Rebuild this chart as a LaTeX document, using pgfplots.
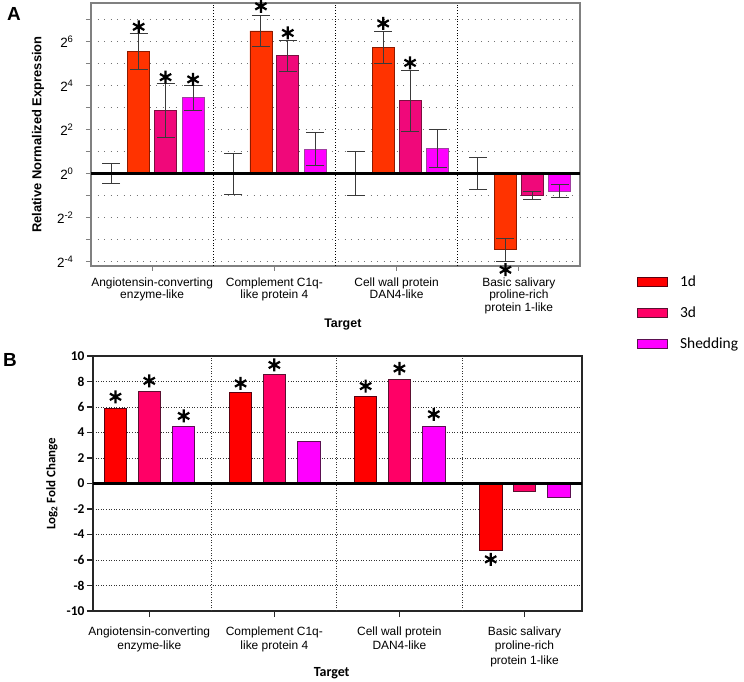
\documentclass[border=0pt]{standalone}
\usepackage{fontspec}
\setmainfont{Liberation Sans}
\newfontfamily\calibri{Carlito}
\usepackage{pgfplots}
\pgfplotsset{compat=1.18}
\definecolor{ta}{HTML}{FF3300}\definecolor{tab}{HTML}{8B1A00}
\definecolor{tb}{HTML}{F0087A}\definecolor{tbb}{HTML}{7A1040}
\definecolor{tc}{HTML}{FF00FF}\definecolor{tcb}{HTML}{A040A0}
\definecolor{ba}{HTML}{FF0000}\definecolor{bab}{HTML}{5A0010}
\definecolor{bb}{HTML}{FF0066}\definecolor{bbb}{HTML}{5A1030}
\definecolor{bc}{HTML}{FF00FF}\definecolor{bcb}{HTML}{5A1050}
\definecolor{errc}{HTML}{3A3A3A}
\pgfplotsset{
  toperr/.style={error bars/.cd, y dir=both, y explicit, error mark=|,
    error bar style={draw=errc, line width=1bp, solid},
    error mark options={draw=errc, line width=1bp, mark size=9bp, solid}},
}
\begin{document}
\begin{tikzpicture}
\path[use as bounding box] (0,0) rectangle (744bp,-682bp);
\node[font=\bfseries\fontsize{19}{21}\selectfont] at (14bp,-14bp) {A};
\node[font=\bfseries\fontsize{19}{21}\selectfont] at (10bp,-360bp) {B};
% ---------------- Panel A ----------------
\begin{axis}[
  at={(91bp,-3bp)}, anchor=north west, scale only axis,
  width=489bp, height=263bp,
  xmin=-0.5, xmax=3.5, ymin=-4.2, ymax=7.75,
  clip=false,
  axis line style={draw=black!50, line width=1.4bp},
  tick style={draw=black!50, line width=1.2bp},
  major tick length=5bp, tick align=outside, tick pos=left,
  xtick={0,1,2,3},
  xticklabels={{Angiotensin-converting\\enzyme-like},{Complement C1q-\\like protein 4},{Cell wall protein\\DAN4-like},{Basic salivary\\proline-rich\\protein 1-like}},
  xticklabel style={align=center, font=\fontsize{12}{12.8}\selectfont, yshift=-3bp},
  ytick={-4,-3,...,7},
  yticklabels={2\textsuperscript{-4},,2\textsuperscript{-2},,2\textsuperscript{0},,2\textsuperscript{2},,2\textsuperscript{4},,2\textsuperscript{6},},
  yticklabel style={font=\fontsize{13.5}{14}\selectfont, xshift=-9bp},
  ymajorgrids,
  major grid style={draw=black!55, line width=0.9bp, dash pattern=on 1bp off 5.5bp},
  extra x ticks={0.5,1.5,2.5}, extra x tick labels={},
  extra x tick style={grid=major, major tick length=0pt,
    major grid style={draw=black, line width=0.8bp, dash pattern=on 1bp off 1.8bp}},
  xlabel={Target}, ylabel={Relative Normalized Expression},
  xlabel style={font=\bfseries\fontsize{12.5}{14}\selectfont, at={(axis description cs:0.515,-0.224)}, anchor=center},
  ylabel style={font=\bfseries\fontsize{13}{14}\selectfont, at={(axis description cs:-0.1084,0.5)}, anchor=center},
]
% control (error bar only)
\addplot[draw=none, fill=none, mark=none, forget plot, toperr] coordinates {
 (-0.335,0) += (0,0.47) -= (0,0.44)
 (0.665,0) += (0,0.93) -= (0,0.95)
 (1.665,0) += (0,1.00) -= (0,1.00)
 (2.665,0) += (0,0.71) -= (0,0.73)
};
\addplot[ybar, bar width=0.18, bar shift=0pt, fill=ta, draw=tab, line width=0.8bp, toperr] coordinates {
 (-0.11,5.53) += (0,0.83) -= (0,0.81)
 (0.89,6.48) += (0,0.72) -= (0,0.72)
 (1.89,5.74) += (0,0.73) -= (0,0.75)
 (2.89,-3.45) += (0,0.50) -= (0,0.53)
};
\addplot[ybar, bar width=0.18, bar shift=0pt, fill=tb, draw=tbb, line width=0.8bp, toperr] coordinates {
 (0.11,2.87) += (0,1.21) -= (0,1.21)
 (1.11,5.37) += (0,0.69) -= (0,0.72)
 (2.11,3.31) += (0,1.36) -= (0,1.39)
 (3.11,-0.98) += (0,0.16) -= (0,0.19)
};
\addplot[ybar, bar width=0.18, bar shift=0pt, fill=tc, draw=tcb, line width=0.8bp, toperr] coordinates {
 (0.335,3.45) += (0,0.55) -= (0,0.58)
 (1.335,1.09) += (0,0.77) -= (0,0.74)
 (2.335,1.15) += (0,0.87) -= (0,0.88)
 (3.335,-0.79) += (0,0.30) -= (0,0.28)
};
% significance stars
\addplot[only marks, mark=asterisk, mark size=6.5bp, line width=2.2bp, black] coordinates {
 (-0.11,6.67) (0.11,4.38) (0.335,4.28) (0.89,7.6) (1.11,6.39) (1.89,6.82) (2.11,5.03) (2.89,-4.37)
};
\draw[black, line width=2.6bp] (axis cs:-0.5,0) -- (axis cs:3.5,0);
\end{axis}
% ---------------- Panel B ----------------
\begin{axis}[
  at={(93bp,-356bp)}, anchor=north west, scale only axis,
  width=489bp, height=255bp,
  xmin=-0.45, xmax=3.46, ymin=-10, ymax=10,
  clip=false,
  axis line style={draw=black!85, line width=1.4bp},
  tick style={draw=black!85, line width=1.2bp},
  major tick length=6bp, tick align=outside, tick pos=left,
  xtick={0,1,2,3},
  xticklabels={{Angiotensin-converting\\enzyme-like},{Complement C1q-\\like protein 4},{Cell wall protein\\DAN4-like},{Basic salivary\\proline-rich\\protein 1-like}},
  xticklabel style={align=center, font=\fontsize{12}{14.7}\selectfont, yshift=-6bp},
  ytick={-10,-8,...,10},
  yticklabels={-10,-8,-6,-4,-2,0,2,4,6,8,10},
  yticklabel style={font=\calibri\bfseries\fontsize{13.5}{14}\selectfont, xshift=1bp},
  ymajorgrids,
  major grid style={draw=black!80, line width=0.8bp, dash pattern=on 1bp off 1.6bp},
  extra x ticks={0.5,1.5,2.5}, extra x tick labels={},
  extra x tick style={grid=major, major tick length=0pt,
    major grid style={draw=black!80, line width=0.8bp, dash pattern=on 1bp off 1.6bp}},
  xlabel={Target}, ylabel={Log\textsubscript{2} Fold Change},
  xlabel style={font=\calibri\bfseries\fontsize{14}{15}\selectfont, at={(axis description cs:0.488,-0.242)}, anchor=center},
  ylabel style={font=\calibri\bfseries\fontsize{13}{14}\selectfont, at={(axis description cs:-0.0838,0.5)}, anchor=center},
  legend style={draw=none, fill=none, at={(axis description cs:1.1125,1.322)}, anchor=north west,
    inner sep=0pt, row sep=14.5bp, font=\calibri\fontsize{15.5}{17}\selectfont,
    /tikz/every odd column/.append style={column sep=10bp}},
  legend cell align=left,
  legend image code/.code={\draw[#1, line width=0.9bp] (0bp,-4.6bp) rectangle (30bp,4.6bp);},
]
\addplot[ybar, bar width=0.18, bar shift=0pt, fill=ba, draw=bab, line width=0.9bp] coordinates {
 (-0.27,5.85) (0.73,7.15) (1.73,6.84) (2.73,-5.25)
};
\addlegendentry{1d}
\addplot[ybar, bar width=0.18, bar shift=0pt, fill=bb, draw=bbb, line width=0.9bp] coordinates {
 (0,7.23) (1,8.58) (2,8.19) (3,-0.63)
};
\addlegendentry{3d}
\addplot[ybar, bar width=0.18, bar shift=0pt, fill=bc, draw=bcb, line width=0.9bp] coordinates {
 (0.275,4.51) (1.275,3.26) (2.275,4.49) (3.275,-1.1)
};
\addlegendentry{Shedding}
\addplot[only marks, mark=asterisk, mark size=6.5bp, line width=2.2bp, black, forget plot] coordinates {
 (-0.27,6.8) (0,8.05) (0.275,5.3) (0.73,7.85) (1,9.3) (1.73,7.64) (2,9.02) (2.275,5.43) (2.73,-5.95)
};
\draw[black, line width=2.4bp] (axis cs:-0.45,0) -- (axis cs:3.46,0);
\end{axis}
\end{tikzpicture}
\end{document}
